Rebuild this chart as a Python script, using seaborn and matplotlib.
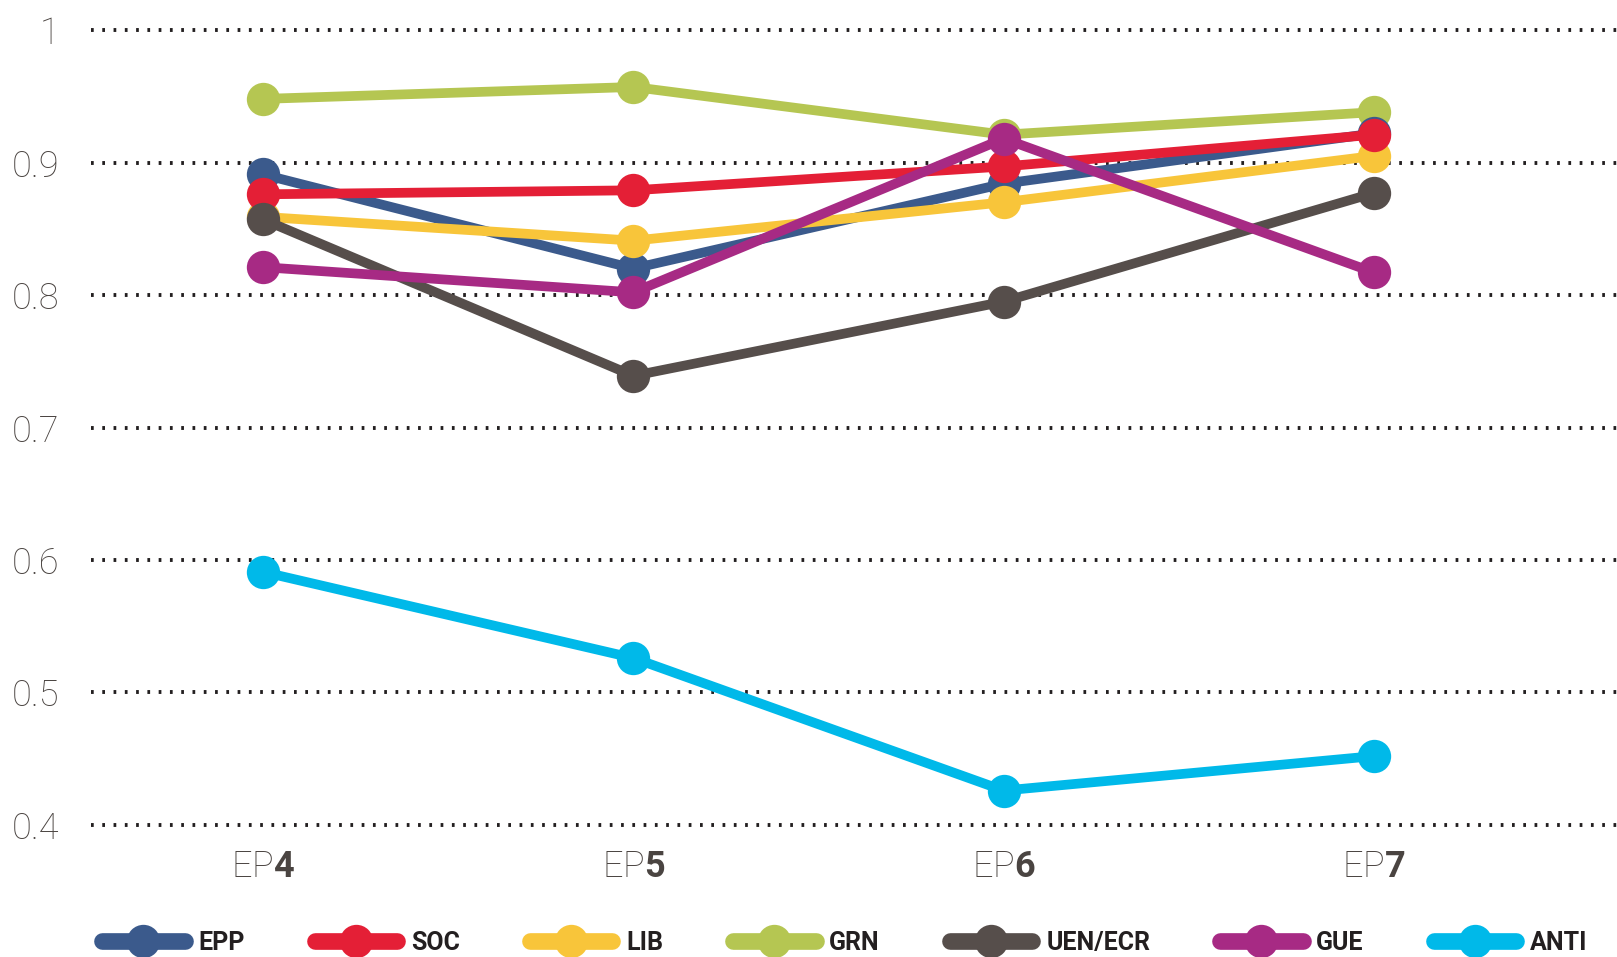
import matplotlib
matplotlib.use("Agg")
import matplotlib.pyplot as plt
from matplotlib import font_manager
from matplotlib.lines import Line2D
import seaborn as sns
import pandas as pd

# -------------------------------
# DATA
# -------------------------------
terms = ["EP4", "EP5", "EP6", "EP7"]
groups = ["EPP", "SOC", "LIB", "GRN", "UEN/ECR", "GUE", "ANTI"]
epp = [0.891, 0.820, 0.884, 0.922]
soc = [0.876, 0.879, 0.897, 0.921]
lib = [0.859, 0.841, 0.870, 0.905]
grn = [0.948, 0.957, 0.921, 0.938]
uen_ecr = [0.857, 0.739, 0.795, 0.877]
gue = [0.821, 0.802, 0.918, 0.817]
anti = [0.591, 0.526, 0.426, 0.452]
colors = ["#3b5a8c", "#e41f36", "#f8c53a", "#b5c652", "#564e4b", "#a72a84", "#00b9e9"]
draw_order = ["GRN", "EPP", "LIB", "SOC", "UEN/ECR", "GUE", "ANTI"]
y_ticks = [0.4, 0.5, 0.6, 0.7, 0.8, 0.9, 1.0]
y_labels = ["0.4", "0.5", "0.6", "0.7", "0.8", "0.9", "1"]

values = dict(zip(groups, [epp, soc, lib, grn, uen_ecr, gue, anti]))
palette = dict(zip(groups, colors))
df = pd.DataFrame(
    [(g, t, v) for g in groups for t, v in zip(terms, values[g])],
    columns=["group", "term", "value"],
)

# -------------------------------
# STYLE
# -------------------------------
sns.set_style("white")
installed = {f.name for f in font_manager.fontManager.ttflist}
font = "Roboto" if "Roboto" in installed else "DejaVu Sans"
plt.rcParams["font.family"] = [font, "DejaVu Sans"]
plt.rcParams["mathtext.fontset"] = "custom"
plt.rcParams["mathtext.rm"] = font + ":light"
plt.rcParams["mathtext.bf"] = font + ":bold"

fig = plt.figure(figsize=(16.17, 9.57), dpi=100)
ax = fig.add_axes([91 / 1617, 1 - 835 / 957, 1 - 91 / 1617, 815 / 957])

sns.lineplot(
    data=df, x="term", y="value", hue="group", hue_order=draw_order,
    palette=palette, marker="o", markersize=24, markeredgewidth=0,
    linewidth=7, legend=False, ax=ax, zorder=3,
)

ax.set_ylim(0.4 - 0.00755, 1.0 + 0.00755)
ax.set_xlim(-0.4645, 3.656)
ax.set_yticks(y_ticks)
ax.set_yticklabels(y_labels)
ax.set_xticks(range(len(terms)))
ax.set_xticklabels(["EP$\\mathbf{" + t[2:] + "}$" for t in terms])
ax.tick_params(axis="y", length=0, pad=23, labelsize=26, labelcolor="#4a4441")
ax.tick_params(axis="x", length=0, pad=10, labelsize=26, labelcolor="#4a4441")
for lbl in ax.get_xticklabels() + ax.get_yticklabels():
    lbl.set_fontweight("light")
ax.set_xlabel("")
ax.set_ylabel("")
for s in ax.spines.values():
    s.set_visible(False)

ax.set_axisbelow(True)
ax.yaxis.grid(True, color="#231f20", linewidth=2.8, linestyle=(0, (0.7, 2.2)))
ax.xaxis.grid(False)

# legend along the bottom edge
handles = [
    Line2D([0], [0], color=palette[g], lw=12, marker="o", markersize=24,
           markeredgewidth=0, solid_capstyle="round")
    for g in groups
]
fig.legend(
    handles, groups, loc="center left", bbox_to_anchor=(102 / 1617, 1 - 943 / 957),
    ncol=len(groups), frameon=False, borderpad=0, borderaxespad=0,
    handlelength=3.3, handletextpad=0.55, columnspacing=2.8,
    prop={"family": font, "weight": "bold", "size": 18},
    labelcolor="#231f20",
)

fig.savefig("out.png", dpi=100)
